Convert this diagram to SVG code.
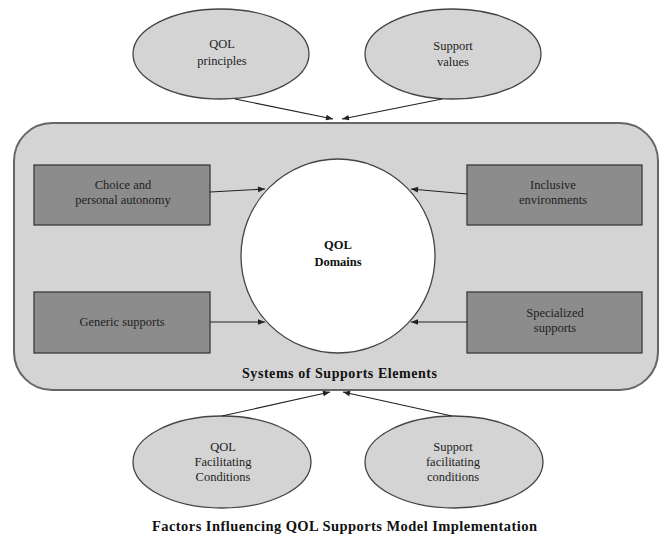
<svg xmlns="http://www.w3.org/2000/svg" width="659" height="538" viewBox="0 0 659 538">
<defs>
<marker id="ah" viewBox="0 0 10 10" refX="10" refY="5" markerWidth="8" markerHeight="7" orient="auto" markerUnits="userSpaceOnUse"><path d="M0,1 L10,5 L0,9 z" fill="#222"/></marker>
<style>
.ell{fill:#d4d4d4;stroke:#444;stroke-width:1.3}
.box{fill:#8c8c8c;stroke:#3a3a3a;stroke-width:1.3}
.t{font-family:"Liberation Serif",serif;font-size:12.5px;fill:#222;text-anchor:middle}
.b{font-family:"Liberation Serif",serif;font-weight:bold;fill:#111;text-anchor:middle}
.c{stroke:#222;stroke-width:1.1;fill:none;marker-end:url(#ah)}
</style>
</defs>
<rect width="659" height="538" fill="#fff"/>
<g id="system">
<rect x="14" y="123" width="644" height="267" rx="38" fill="#d4d4d4" stroke="#666" stroke-width="2"/>
<text class="b" x="339.5" y="378" font-size="14" textLength="195" lengthAdjust="spacing">Systems of Supports Elements</text>
</g>
<g id="qol-principles"><ellipse class="ell" cx="221" cy="54" rx="88" ry="45"/><text class="t" x="222" y="48">QOL</text><text class="t" x="222" y="65">principles</text></g>
<g id="support-values"><ellipse class="ell" cx="453" cy="54" rx="88" ry="45"/><text class="t" x="453" y="50">Support</text><text class="t" x="453" y="66">values</text></g>
<g id="choice"><rect class="box" x="34" y="165" width="176" height="60"/><text class="t" x="123" y="189">Choice and</text><text class="t" x="123" y="204">personal autonomy</text></g>
<g id="inclusive"><rect class="box" x="467" y="165" width="175" height="60"/><text class="t" x="553" y="189">Inclusive</text><text class="t" x="553" y="204">environments</text></g>
<g id="generic"><rect class="box" x="34" y="292" width="176" height="61"/><text class="t" x="122" y="326">Generic supports</text></g>
<g id="specialized"><rect class="box" x="467" y="292" width="175" height="61"/><text class="t" x="555" y="317">Specialized</text><text class="t" x="555" y="332">supports</text></g>
<g id="domains"><circle cx="338" cy="256" r="97" fill="#fff" stroke="#444" stroke-width="1.3"/><text class="b" x="338" y="249" font-size="12.5">QOL</text><text class="b" x="338" y="266" font-size="12.5">Domains</text></g>
<g id="qol-facilitating"><ellipse class="ell" cx="222" cy="462" rx="89" ry="46"/><text class="t" x="223" y="451">QOL</text><text class="t" x="223" y="466">Facilitating</text><text class="t" x="223" y="481">Conditions</text></g>
<g id="support-facilitating"><ellipse class="ell" cx="454" cy="462" rx="89" ry="46"/><text class="t" x="453" y="451">Support</text><text class="t" x="453" y="466">facilitating</text><text class="t" x="453" y="481">conditions</text></g>
<text class="b" x="344.5" y="531" font-size="14.5" textLength="385" lengthAdjust="spacing">Factors Influencing QOL Supports Model Implementation</text>
<g id="connectors">
<path class="c" d="M235,99 L333,119"/>
<path class="c" d="M442,99 L342,119"/>
<path class="c" d="M210,192 L265,189"/>
<path class="c" d="M467,194 L411,189"/>
<path class="c" d="M210,322 L265,322"/>
<path class="c" d="M467,322 L411,322"/>
<path class="c" d="M222,416 L330,392"/>
<path class="c" d="M452,416 L343,392"/>
</g>
</svg>
